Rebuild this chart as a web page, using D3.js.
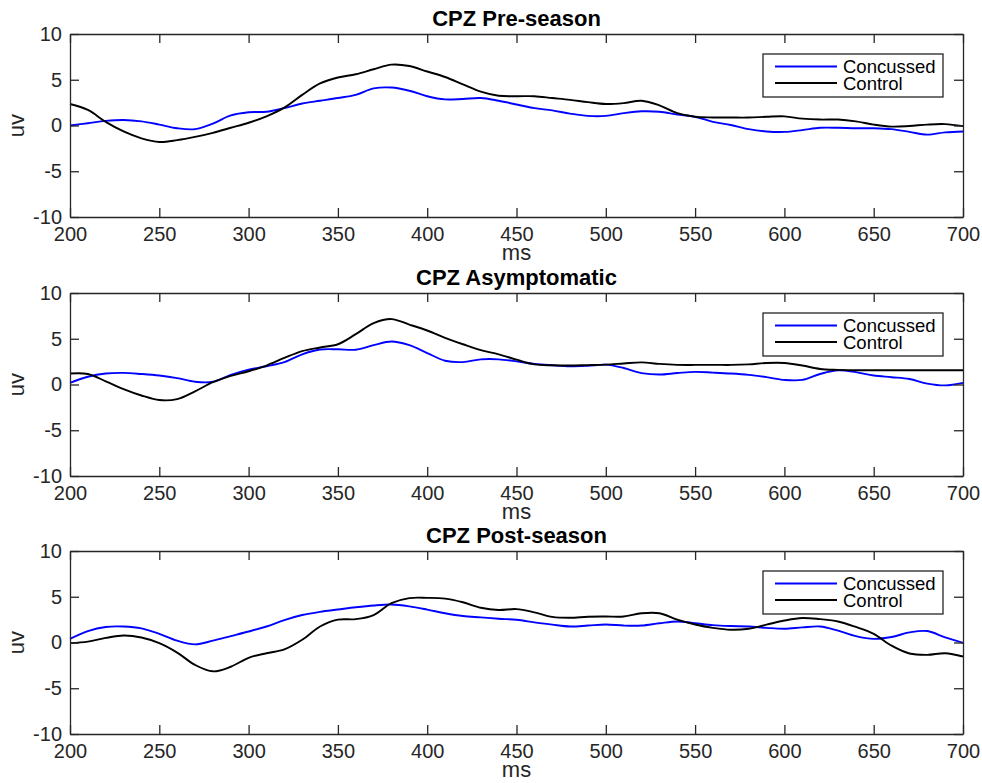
<!DOCTYPE html>
<html>
<head>
<meta charset="utf-8">
<script src="https://cdn.jsdelivr.net/npm/d3@7"></script>
<style>
  html, body { margin: 0; padding: 0; background: #fff; }
  svg { display: block; font-family: "Liberation Sans", Arial, Helvetica, sans-serif; }
</style>
</head>
<body>
<svg id="chart" width="982" height="783"></svg>
<script>
// Time axis (ms), sampled every 10 ms
const times = d3.range(200, 701, 10);

const panelTitles = ["CPZ Pre-season", "CPZ Asymptomatic", "CPZ Post-season"];
const seriesNames = ["Concussed", "Control"];
const seriesColors = ["#0000ff", "#000000"];
const xTicks = [200, 250, 300, 350, 400, 450, 500, 550, 600, 650, 700];
const yTicks = [-10, -5, 0, 5, 10];

// Grand-average ERP amplitudes (uV) at CPZ
const preConcussed = [
  0.0, 0.25, 0.5, 0.6, 0.45, 0.1, -0.3, -0.4, 0.2, 1.1,
  1.45, 1.5, 1.9, 2.4, 2.7, 3.0, 3.35, 4.05, 4.15, 3.8,
  3.2, 2.85, 2.9, 3.0, 2.7, 2.3, 1.9, 1.65, 1.3, 1.05,
  1.05, 1.35, 1.55, 1.5, 1.2, 0.95, 0.4, 0.05, -0.4, -0.65,
  -0.7, -0.5, -0.25, -0.25, -0.3, -0.3, -0.4, -0.7, -1.0, -0.75,
  -0.65
];
const preControl = [
  2.35, 1.7, 0.4, -0.65, -1.4, -1.8, -1.6, -1.25, -0.8, -0.25,
  0.3, 1.0, 1.95, 3.35, 4.6, 5.25, 5.6, 6.15, 6.65, 6.5,
  5.9, 5.3, 4.5, 3.7, 3.25, 3.2, 3.2, 3.0, 2.8, 2.55,
  2.35, 2.45, 2.7, 2.2, 1.35, 0.95, 0.88, 0.87, 0.87, 0.95,
  1.0, 0.75, 0.65, 0.65, 0.45, 0.1, -0.12, -0.05, 0.1, 0.15,
  -0.07
];
const asymConcussed = [
  0.18, 0.85, 1.2, 1.27, 1.15, 0.98, 0.7, 0.3, 0.3, 1.05,
  1.63, 2.0, 2.45, 3.3, 3.82, 3.85, 3.8, 4.3, 4.7, 4.3,
  3.44, 2.6, 2.45, 2.75, 2.75, 2.53, 2.25, 2.1, 1.99, 2.05,
  2.17, 1.8, 1.25, 1.09, 1.25, 1.38, 1.3, 1.2, 1.05, 0.8,
  0.5, 0.5, 1.15, 1.55, 1.35, 0.98, 0.8, 0.6, 0.1, -0.1,
  0.18
];
const asymControl = [
  1.2, 1.15, 0.35, -0.5, -1.2, -1.7, -1.6, -0.75, 0.25, 0.95,
  1.45, 2.07, 2.9, 3.65, 4.05, 4.4, 5.5, 6.7, 7.15, 6.55,
  5.9, 5.1, 4.4, 3.75, 3.3, 2.72, 2.2, 2.1, 2.07, 2.12,
  2.17, 2.3, 2.42, 2.25, 2.15, 2.14, 2.15, 2.14, 2.2, 2.35,
  2.35, 2.07, 1.7, 1.6, 1.56, 1.56, 1.56, 1.56, 1.56, 1.56,
  1.56
];
const postConcussed = [
  0.4, 1.25, 1.7, 1.75, 1.55, 0.95, 0.2, -0.2, 0.2, 0.7,
  1.2, 1.75, 2.45, 3.0, 3.35, 3.6, 3.85, 4.05, 4.15, 3.95,
  3.6, 3.2, 2.9, 2.75, 2.6, 2.48, 2.2, 1.95, 1.75, 1.85,
  1.97, 1.85, 1.85, 2.1, 2.3, 2.11, 1.9, 1.8, 1.75, 1.6,
  1.5, 1.65, 1.75, 1.3, 0.7, 0.4, 0.6, 1.1, 1.25, 0.55,
  -0.05
];
const postControl = [
  -0.07, 0.1, 0.5, 0.77, 0.55, -0.07, -1.1, -2.45, -3.15, -2.65,
  -1.67, -1.17, -0.75, 0.3, 1.75, 2.5, 2.55, 3.0, 4.3, 4.85,
  4.88, 4.8, 4.4, 3.8, 3.55, 3.65, 3.3, 2.8, 2.7, 2.82,
  2.84, 2.84, 3.2, 3.2, 2.5, 1.97, 1.6, 1.39, 1.5, 1.95,
  2.4, 2.68, 2.55, 2.3, 1.7, 0.95, -0.35, -1.2, -1.35, -1.17,
  -1.53
];

const panelSeries = [
  [preConcussed, preControl],
  [asymConcussed, asymControl],
  [postConcussed, postControl]
];

// Layout
const svg = d3.select("#chart");
const left = 70, right = 963;
const panelTops = [34, 293, 551];
const panelH = 183;
const axisColor = "#262626";
const tickLen = 9;
const plainNumber = d => String(d);   // ASCII hyphen for negatives

const x = d3.scaleLinear().domain([200, 700]).range([left, right]);

panelTitles.forEach((title, p) => {
  const top = panelTops[p];
  const bottom = top + panelH;
  const y = d3.scaleLinear().domain([-10, 10]).range([bottom, top]);
  const g = svg.append("g");

  // Series lines
  const line = d3.line()
    .x((d, i) => x(times[i]))
    .y(d => y(d))
    .curve(d3.curveCatmullRom.alpha(0.5));

  panelSeries[p].forEach((vals, s) => {
    g.append("path")
      .datum(vals)
      .attr("fill", "none")
      .attr("stroke", seriesColors[s])
      .attr("stroke-width", 1.9)
      .attr("stroke-linejoin", "round")
      .attr("d", line);
  });

  // Axes (box with inward ticks)
  const styleAxis = sel => {
    sel.selectAll(".domain").attr("stroke", axisColor).attr("stroke-width", 1.3);
    sel.selectAll(".tick line").attr("stroke", axisColor).attr("stroke-width", 1.3);
    sel.selectAll(".tick text").attr("fill", axisColor);
  };

  g.append("g")
    .attr("transform", `translate(0,${bottom})`)
    .call(d3.axisBottom(x).tickValues(xTicks).tickFormat(plainNumber)
      .tickSizeInner(-tickLen).tickSizeOuter(0).tickPadding(10))
    .attr("font-size", 20).attr("font-family", null)
    .call(styleAxis);

  g.append("g")
    .attr("transform", `translate(0,${top})`)
    .call(d3.axisTop(x).tickValues(xTicks).tickSizeInner(-tickLen).tickSizeOuter(0).tickFormat(""))
    .call(styleAxis);

  g.append("g")
    .attr("transform", `translate(${left},0)`)
    .call(d3.axisLeft(y).tickValues(yTicks).tickFormat(plainNumber)
      .tickSizeInner(-tickLen).tickSizeOuter(0).tickPadding(8))
    .attr("font-size", 20).attr("font-family", null)
    .call(styleAxis);

  g.append("g")
    .attr("transform", `translate(${right},0)`)
    .call(d3.axisRight(y).tickValues(yTicks).tickSizeInner(-tickLen).tickSizeOuter(0).tickFormat(""))
    .call(styleAxis);

  // Title
  g.append("text")
    .attr("x", (left + right) / 2)
    .attr("y", top - 8)
    .attr("text-anchor", "middle")
    .attr("font-size", 22)
    .attr("font-weight", "bold")
    .attr("fill", "#000")
    .text(title);

  // Axis labels
  g.append("text")
    .attr("x", (left + right) / 2)
    .attr("y", bottom + 43)
    .attr("text-anchor", "middle")
    .attr("font-size", 22)
    .attr("fill", axisColor)
    .text("ms");

  g.append("text")
    .attr("transform", `translate(24,${(top + bottom) / 2}) rotate(-90)`)
    .attr("text-anchor", "middle")
    .attr("font-size", 22)
    .attr("fill", axisColor)
    .text("uv");

  // Legend
  const lg = g.append("g").attr("transform", `translate(763,${top + 20})`);
  lg.append("rect")
    .attr("width", 180).attr("height", 43)
    .attr("fill", "#fff")
    .attr("stroke", axisColor)
    .attr("stroke-width", 1.3);
  seriesNames.forEach((name, s) => {
    const cy = 12.5 + s * 16.5;
    lg.append("line")
      .attr("x1", 12).attr("x2", 74)
      .attr("y1", cy).attr("y2", cy)
      .attr("stroke", seriesColors[s])
      .attr("stroke-width", 1.9);
    lg.append("text")
      .attr("x", 80)
      .attr("y", cy + 6.5)
      .attr("font-size", 18.5)
      .attr("fill", "#000")
      .text(name);
  });
});
</script>
</body>
</html>
